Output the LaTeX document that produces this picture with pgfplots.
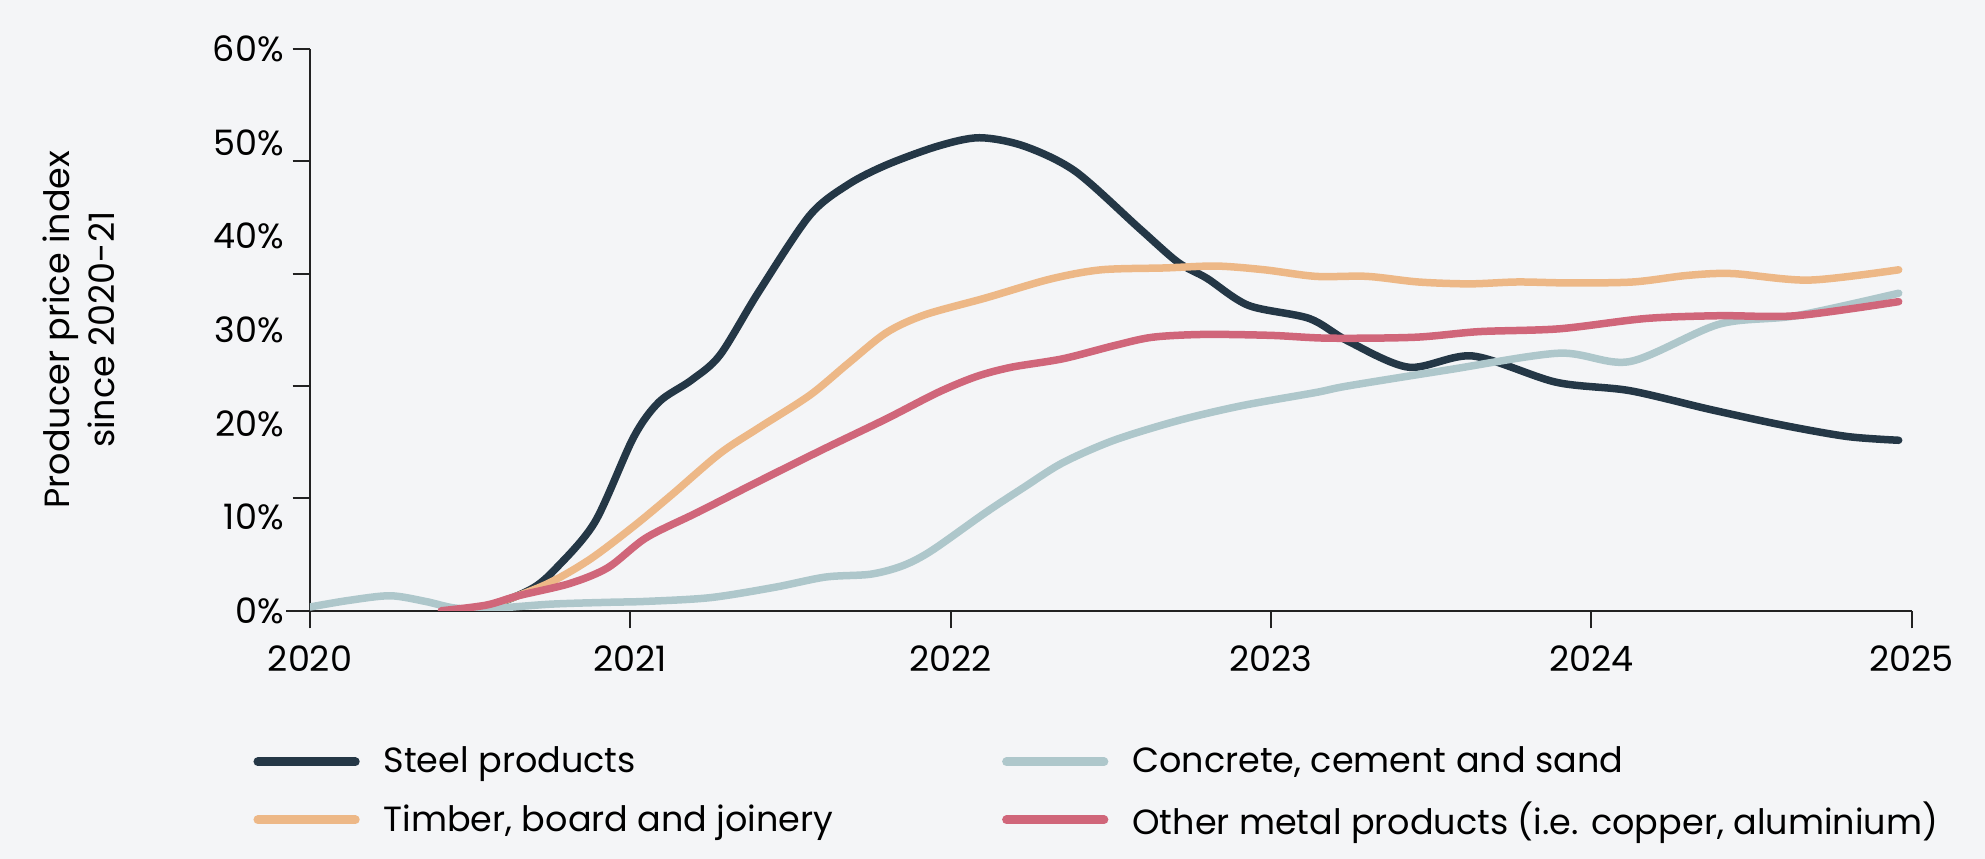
\documentclass[border=0pt]{standalone}
\usepackage{fontspec}
\setmainfont{Poppins}
\usepackage{pgfplots}
\pgfplotsset{compat=1.18}
\usepackage{pgfplotstable}

\definecolor{bgcol}{HTML}{F4F5F7}
\definecolor{axiscol}{HTML}{222222}
\definecolor{steel}{HTML}{243746}
\definecolor{timber}{HTML}{EDB887}
\definecolor{concrete}{HTML}{AEC7CB}
\definecolor{othermetal}{HTML}{D0667A}

\newcommand\chartfont{\fontsize{14bp}{17.7bp}\selectfont}

% year, percent change in producer price index since 2020-21
\pgfplotstableread{
x y
2020.42 0
2020.55 0.4
2020.69 2.3
2020.77 4.6
2020.89 9.5
2021.01 18.5
2021.09 22.3
2021.19 24.6
2021.28 27.3
2021.40 34
2021.56 42.2
2021.68 45.5
2021.80 47.6
2021.96 49.6
2022.09 50.5
2022.23 49.6
2022.39 46.9
2022.59 40.8
2022.71 37.2
2022.80 35.5
2022.93 32.6
2023.12 31.2
2023.24 28.8
2023.43 26.0
2023.63 27.2
2023.89 24.4
2024.12 23.5
2024.37 21.5
2024.60 19.8
2024.80 18.6
2024.96 18.2
}\steeldata

\pgfplotstableread{
x y
2020.42 0
2020.55 0.5
2020.73 2.7
2020.87 5.4
2021.01 9
2021.13 12.4
2021.28 16.8
2021.40 19.5
2021.56 23
2021.68 26.4
2021.80 29.7
2021.92 31.6
2022.11 33.4
2022.31 35.4
2022.47 36.4
2022.67 36.6
2022.83 36.8
2022.98 36.4
2023.14 35.7
2023.30 35.7
2023.46 35.1
2023.62 34.9
2023.77 35.1
2023.93 35.0
2024.13 35.1
2024.30 35.8
2024.44 36.0
2024.68 35.3
2024.96 36.4
}\timberdata

\pgfplotstableread{
x y
2020.00 0.4
2020.12 1.1
2020.25 1.6
2020.36 1.0
2020.45 0.3
2020.55 0.2
2020.75 0.7
2020.93 0.9
2021.05 1.0
2021.25 1.4
2021.45 2.5
2021.61 3.6
2021.75 3.9
2021.85 4.8
2021.94 6.4
2022.11 10.5
2022.23 13.2
2022.35 15.8
2022.51 18.2
2022.71 20.3
2022.91 21.9
2023.14 23.3
2023.24 24.0
2023.55 25.7
2023.90 27.5
2024.12 26.6
2024.40 30.6
2024.64 31.5
2024.96 33.9
}\concretedata

\pgfplotstableread{
x y
2020.41 0
2020.55 0.6
2020.65 1.6
2020.81 2.9
2020.93 4.6
2021.05 7.8
2021.21 10.5
2021.40 13.8
2021.60 17.2
2021.80 20.5
2021.96 23.3
2022.08 25.0
2022.19 26.0
2022.35 26.9
2022.51 28.3
2022.63 29.2
2022.79 29.5
2023.00 29.4
2023.18 29.1
2023.45 29.2
2023.65 29.8
2023.90 30.1
2024.17 31.2
2024.40 31.5
2024.64 31.5
2024.96 33.0
}\metaldata

\begin{document}
\begin{tikzpicture}
\fill[bgcol] (-124bp,-99.3bp) rectangle (670bp,244.3bp);
\begin{axis}[
    name=ax,
    at={(0,0)}, anchor=south west,
    scale only axis,
    width=640.6bp, height=224.8bp,
    xmin=2020, xmax=2025, ymin=0, ymax=60,
    axis lines=left,
    axis line style={-, axiscol, line width=0.8bp},
    tick style={axiscol, line width=0.8bp},
    tick align=outside,
    major tick length=7bp,
    xtick={2020,2021,2022,2023,2024,2025},
    xticklabels={2020,2021,2022,2023,2024,2025},
    ytick={0,12,24,36,48,60},
    yticklabels={},
    extra y ticks={0,10,20,30,40,50,60},
    extra y tick labels={0\%,10\%,20\%,30\%,40\%,50\%,60\%},
    extra y tick style={major tick length=0pt},
    ticklabel style={font=\chartfont, text=black},
    yticklabel style={xshift=-7bp},
    xticklabel style={yshift=-3.5bp},
    ylabel={Producer price index\\since 2020-21},
    every axis y label/.style={at={(axis description cs:-0.1443,0.5)}, rotate=90, anchor=center},
    ylabel style={font=\chartfont, align=center},
    legend columns=2,
    transpose legend,
    legend cell align=left,
    legend style={
        draw=none, fill=none, font=\chartfont,
        at={(axis description cs:-0.0356,0)}, anchor=north west,
        yshift=-52.3bp, inner sep=0pt,
        row sep=6bp,
        /tikz/every odd column/.append style={column sep=7.6bp},
        /tikz/every even column/.append style={column sep=65.5bp},
    },
    legend image code/.code={\draw[#1, line width=3.5bp, line cap=round] (0bp,0bp) -- (39bp,0bp);},
    every axis plot/.append style={line width=3bp, line cap=round, line join=round},
]
\addplot[steel, smooth] table {\steeldata};
\addlegendentry{Steel products}
\addplot[timber, smooth] table {\timberdata};
\addlegendentry{Timber, board and joinery}
\addplot[concrete, smooth] table {\concretedata};
\addlegendentry{Concrete, cement and sand}
\addplot[othermetal, smooth] table {\metaldata};
\addlegendentry{Other metal products (i.e. copper, aluminium)}
\end{axis}
\draw[axiscol, line width=0.8bp] (ax.south west) -- ++(-9.6bp,0);
\pgfresetboundingbox
\path[use as bounding box] (-124bp,-99.3bp) rectangle (670bp,244.3bp);
\end{tikzpicture}
\end{document}
